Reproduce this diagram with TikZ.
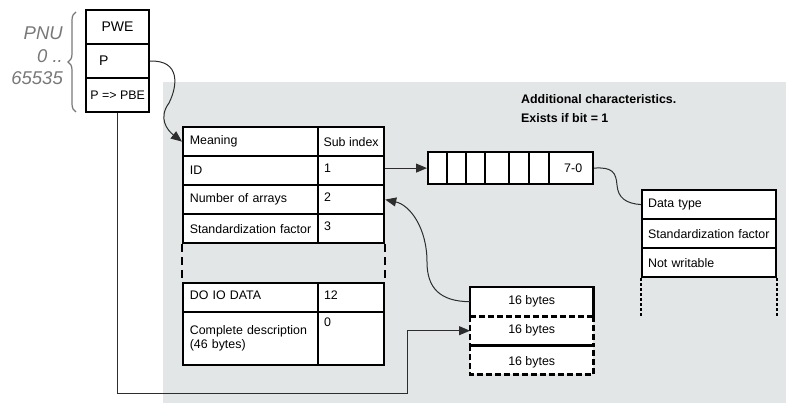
\documentclass[tikz,border=0pt]{standalone}
\usepackage{fontspec}
\setmainfont{Liberation Sans}
\usetikzlibrary{arrows.meta,decorations.pathreplacing}

\definecolor{bggray}{RGB}{227,230,231}
\definecolor{wiregray}{RGB}{45,45,45}
\definecolor{pnugray}{RGB}{120,120,120}

\tikzset{
  box/.style={draw, line width=2.2pt, fill=white, inner sep=0pt, anchor=north west},
  stackbox/.style={box, minimum width=63pt, minimum height=34pt},
  leftcell/.style={box, minimum height=29pt, text width=121.5pt, inner xsep=6.75pt, align=left},
  subcell/.style={box, minimum height=29pt, text width=54pt, inner xsep=6pt, align=left, text height=9pt, text depth=5pt},
  rightcell/.style={box, minimum height=29pt, text width=122pt, inner xsep=6pt, align=left},
  bytecell/.style={fill=white, inner sep=0pt, anchor=north west, minimum width=123pt, minimum height=29pt},
  tableline/.style={line width=2.2pt},
  wire/.style={draw=wiregray, line width=1pt},
  headed/.style={-{Triangle[length=11pt,width=9pt]}},
}

\begin{document}
\begin{tikzpicture}[x=1pt, y=-1pt, font=\fontsize{12.4}{14}\selectfont]
    % Fix the size of the picture
    \useasboundingbox (0,0) rectangle (786,403);

    % Draw the gray background behind the tables
    \fill[bggray] (163,82) rectangle (786,403);

    % Draw the parameter stack
    \node[stackbox, font=\fontsize{14}{16}\selectfont] (pwe) at (85,9) {PWE};
    \node[stackbox, font=\fontsize{14}{16}\selectfont, text width=37pt, align=left] (p) at (85,43) {P};
    \node[stackbox] (pbe) at (85,77) {P => PBE};

    % Draw the brace and the PNU range
    \draw[pnugray, line width=1.2pt, decorate, decoration={brace, amplitude=8pt}] (76,112) -- (76,12);
    \node[anchor=east, align=right, text=pnugray, inner sep=0pt,
          font=\fontsize{18.5}{22.5}\selectfont\itshape] (pnu) at (63,56) {PNU\\0 ..\\65535};

    % Draw the main table
    \node[leftcell] (mean) at (182,126) {Meaning};
    \node[box, minimum width=66pt, minimum height=29pt] (sub) at (317,126) {Sub index};
    \node[leftcell] (id) at (182,155) {ID};
    \node[subcell] (s1) at (317,155) {1};
    \node[leftcell] (arr) at (182,184) {Number of arrays};
    \node[subcell] (s2) at (317,184) {2};
    \node[leftcell] (std) at (182,213) {Standardization factor};
    \node[subcell] (s3) at (317,213) {3};
    \node[leftcell, text height=9pt, text depth=5pt] (dodata) at (182,282) {DO IO DATA};
    \node[subcell] (s12) at (317,282) {12};
    \node[leftcell, minimum height=53pt] (desc) at (182,311) {Complete description\\(46 bytes)};
    \node[subcell, minimum height=53pt, text depth=33pt] (s0) at (317,311) {0};

    % The open part of the table
    \draw[tableline, dash pattern=on 8pt off 5pt] (std.south west) -- (dodata.north west);
    \draw[tableline, dash pattern=on 8pt off 5pt] (s3.south east) -- (s12.north east);

    % Draw the bit field
    \node[box, minimum width=165pt, minimum height=32pt] (bits) at (427,151) {};
    \foreach \dx in {20,39,58,82,102,122}
        \draw[tableline] ([xshift=\dx pt]bits.north west) -- ([xshift=\dx pt]bits.south west);
    \node (bitlow) at ([xshift=-21pt]bits.east) {7-0};

    % Draw the characteristics table
    \node[rightcell] (dtype) at (641,189) {Data type};
    \node[rightcell] (rstd) at (641,218) {Standardization factor};
    \node[rightcell] (nowr) at (641,247) {Not writable};
    \draw[tableline, dash pattern=on 3pt off 2pt] (nowr.south west) -- ++(0,38);
    \draw[tableline, dash pattern=on 3pt off 2pt] (nowr.south east) -- ++(0,38);

    % Title of the characteristics
    \node[anchor=base west, inner sep=0pt, font=\fontsize{12.4}{14}\selectfont\bfseries] (title1) at (521,103.5) {Additional characteristics.};
    \node[anchor=base west, inner sep=0pt, font=\fontsize{12.4}{14}\selectfont\bfseries] (title2) at (521,122.5) {Exists if bit = 1};

    % Draw the 16 byte blocks
    \node[bytecell] (b1) at (470,287) {16 bytes};
    \node[bytecell] (b2) at (470,316) {16 bytes};
    \node[bytecell, text height=12pt, text depth=0pt] (b3) at (470,345) {16 bytes};
    \draw[tableline] (b1.south west) -- (b1.north west) -- (b1.north east) -- (b1.south east);
    \draw[tableline, dash pattern=on 6pt off 3pt] (b1.south west) -- (b1.south east);
    \draw[tableline, dash pattern=on 6pt off 3pt] (b2.north west) -- (b2.south west) (b2.north east) -- (b2.south east);
    \draw[tableline] (b2.south west) -- (b2.south east);
    \draw[tableline, dash pattern=on 6pt off 3pt] (b3.north west) -- (b3.south west) -- (b3.south east) -- (b3.north east);

    % Connectors
    \draw[wire, headed] (p.east) .. controls (180,60) and (178,85) .. (169,103)
        .. controls (158,118) and (167,130) .. (mean.west);
    \draw[wire, headed] (s1.east |- bits.west) -- (bits.west);
    \draw[wire] (bits.east) .. controls (612,167) and (616,172) .. (617,185)
        .. controls (618,198) and (626,203.5) .. (dtype.west);
    \draw[wire, headed] (b1.west) .. controls (440,301.5) and (427,288) .. (427,262)
        .. controls (427,228) and (410,205) .. (s2.east);
    \coordinate (turn) at (407,393);
    \draw[wire, headed] (pbe.south) |- (turn) |- (b2.west);
\end{tikzpicture}
\end{document}
